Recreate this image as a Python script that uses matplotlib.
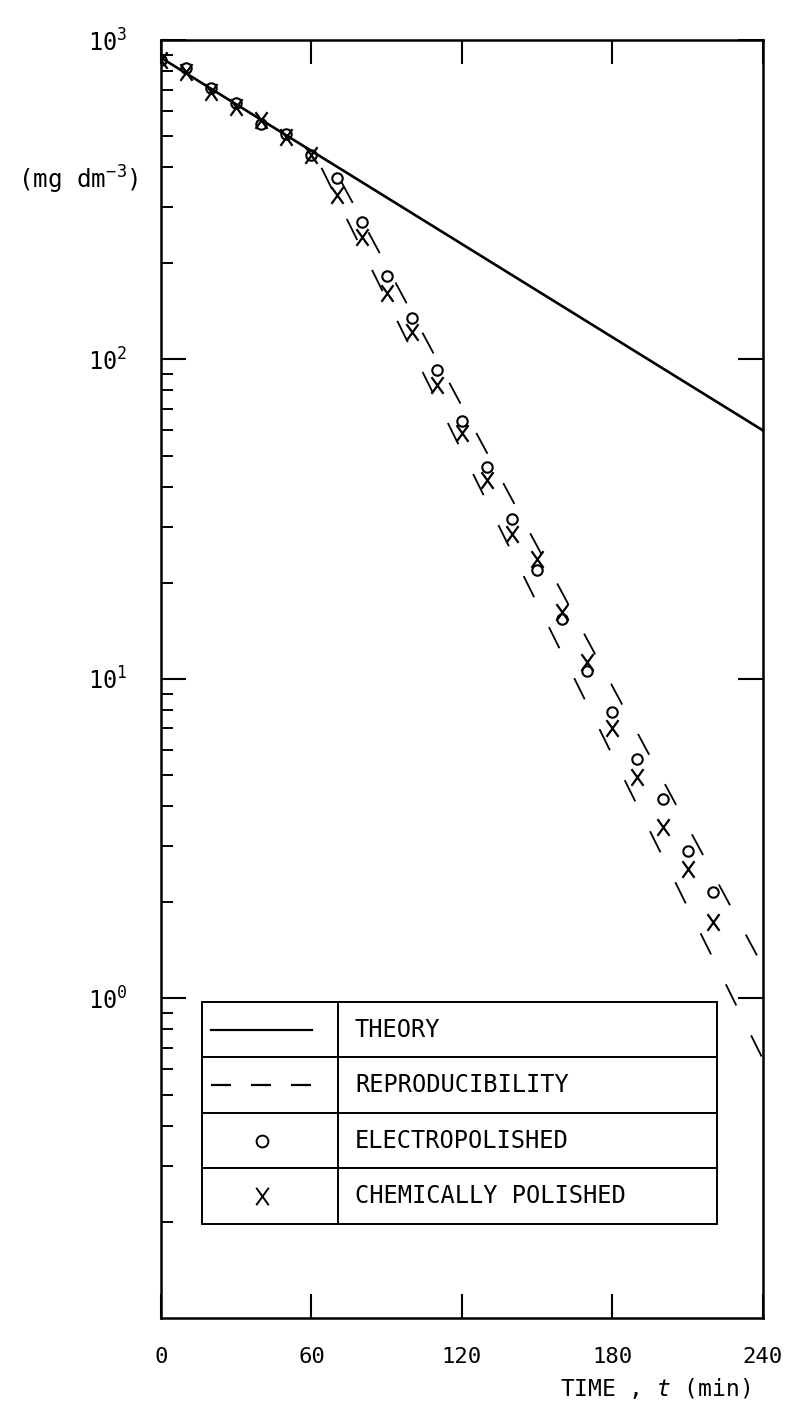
import matplotlib
matplotlib.use("Agg")
import matplotlib.pyplot as plt
from matplotlib.path import Path
from matplotlib.lines import Line2D

# concentration decay data (mg dm^-3)
time = [0, 10, 20, 30, 40, 50, 60, 70, 80, 90, 100, 110,
        120, 130, 140, 150, 160, 170, 180, 190, 200, 210, 220]
electro = [866, 818, 708, 635, 546, 508, 437, 371, 270, 182, 135, 93,
           64, 46, 31.6, 22, 15.4, 10.6, 7.9, 5.6, 4.2, 2.9, 2.16]
chem = [866, 794, 688, 617, 562, 497, 437, 328, 242, 162, 122, 83.5,
        59, 42, 28.4, 23.7, 16.2, 11.3, 7.0, 4.94, 3.45, 2.55, 1.74]

theory_t = [0, 240]
theory_c = [880, 60]
repro_lo_t = [64, 240]
repro_lo_c = [398, 0.646]
repro_hi_t = [72, 240]
repro_hi_c = [359, 1.26]

xticks = [0, 60, 120, 180, 240]
yticks = [1, 10, 100, 1000]
ytick_labels = [r"$\mathregular{10^{0}}$", r"$\mathregular{10^{1}}$",
                r"$\mathregular{10^{2}}$", r"$\mathregular{10^{3}}$"]
legend_rows = ["THEORY", "REPRODUCIBILITY", "ELECTROPOLISHED", "CHEMICALLY POLISHED"]

plt.rcParams["font.family"] = ["DejaVu Sans Mono", "DejaVu Sans"]
plt.rcParams["mathtext.fontset"] = "custom"
plt.rcParams["mathtext.rm"] = "DejaVu Sans Mono"
plt.rcParams["mathtext.it"] = "DejaVu Sans Mono:italic"
plt.rcParams["lines.scale_dashes"] = False

fig = plt.figure(figsize=(7.93, 14.04), dpi=100)
ax = fig.add_axes([0.203, 0.0613, 0.759, 0.9102])

# tall letter-like X marker
xmark = Path([(-0.36, -0.5), (0.36, 0.5), (0.36, -0.5), (-0.36, 0.5)],
             [Path.MOVETO, Path.LINETO, Path.MOVETO, Path.LINETO])

ax.plot(theory_t, theory_c, color="black", lw=1.9)
ax.plot(repro_lo_t, repro_lo_c, color="black", lw=1.3, dashes=(17, 24))
ax.plot(repro_hi_t, repro_hi_c, color="black", lw=1.3, dashes=(17, 24))
ax.plot(time, electro, ls="none", marker="o", ms=7.5, mfc="none",
        mec="black", mew=1.5)
ax.plot(time, chem, ls="none", marker=xmark, ms=12, mec="black", mew=1.6)

ax.set_yscale("log")
ax.set_xlim(0, 240)
ax.set_ylim(0.1, 1000)
ax.set_xticks(xticks)
ax.set_xticklabels([str(v) for v in xticks], fontsize=16)
ax.set_yticks(yticks)
ax.set_yticklabels(ytick_labels, fontsize=17)
ax.yaxis.set_minor_locator(matplotlib.ticker.LogLocator(base=10, subs=range(2, 10)))
ax.yaxis.set_minor_formatter(matplotlib.ticker.NullFormatter())

ax.tick_params(axis="x", which="major", direction="in", length=17, width=1.5,
               top=True, pad=21)
ax.tick_params(axis="y", which="major", direction="in", length=18, width=1.5,
               right=True, pad=24)
ax.tick_params(axis="y", which="minor", direction="in", length=8.5, width=1.4,
               left=True, right=False)
for s in ax.spines.values():
    s.set_linewidth(1.8)

# legend drawn as a boxed table
leg_box = [0.068, 0.0736, 0.856, 0.1737]
tab = ax.table(cellText=[["", r] for r in legend_rows], colWidths=[0.264, 0.736],
               cellLoc="left", bbox=leg_box, zorder=3)
tab.auto_set_font_size(False)
tab.set_fontsize(17)
for (r, c), cell in tab.get_celld().items():
    cell.set_linewidth(1.4)
    cell.PAD = 0.045
    cell.get_text().set_fontfamily("DejaVu Sans Mono")

row_h = leg_box[3] / 4
yc = [leg_box[1] + leg_box[3] - row_h * (i + 0.5) for i in range(4)]
ax.add_line(Line2D([0.083, 0.251], [yc[0], yc[0]], transform=ax.transAxes,
                   color="black", lw=1.6, zorder=4))
ax.add_line(Line2D([0.083, 0.251], [yc[1], yc[1]], transform=ax.transAxes,
                   color="black", lw=1.6, dashes=(14.4, 14.4), zorder=4))
ax.plot([0.168], [yc[2]], transform=ax.transAxes, marker="o", ms=8.5,
        mfc="none", mec="black", mew=1.4, zorder=4)
ax.plot([0.168], [yc[3]], transform=ax.transAxes, marker=xmark, ms=12.5,
        mec="black", mew=1.4, zorder=4)

fig.text(18 / 793, 1 - 180 / 1404, r"(mg dm$^{-3}$)", fontsize=17.5,
         ha="left", va="center")
fig.text(750 / 793, 1 - 1401 / 1404, r"TIME , $\mathit{t}$ (min)", fontsize=16.5,
         ha="right", va="bottom")

fig.savefig("out.png", dpi=100, facecolor="white")
